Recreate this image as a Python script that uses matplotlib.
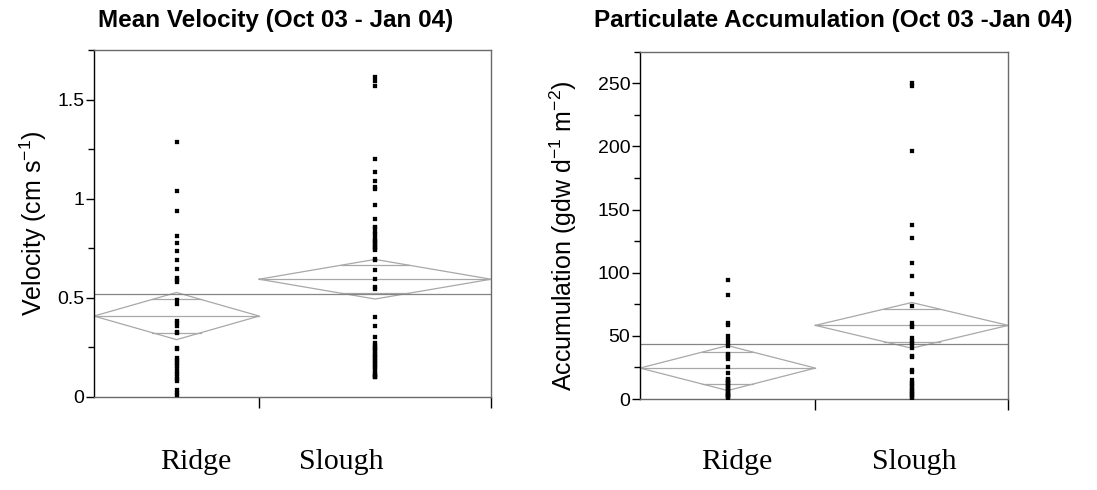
import matplotlib
matplotlib.use('Agg')
import matplotlib.pyplot as plt
import numpy as np
from matplotlib.ticker import MultipleLocator, FuncFormatter

plt.rcParams['font.family'] = ['Liberation Sans', 'DejaVu Sans']
plt.rcParams['mathtext.fontset'] = 'custom'
plt.rcParams['mathtext.rm'] = 'Liberation Sans'
plt.rcParams['mathtext.it'] = 'Liberation Sans:italic'
plt.rcParams['mathtext.bf'] = 'Liberation Sans:bold'

categories = ['Ridge', 'Slough']

# Mean velocity (cm s-1)
vel_ridge = [1.285, 1.04, 0.935, 0.81, 0.775, 0.735, 0.69, 0.645, 0.60, 0.59, 0.58,
             0.49, 0.47, 0.38, 0.37, 0.355, 0.325, 0.32, 0.245, 0.24, 0.195, 0.185,
             0.175, 0.165, 0.155, 0.14, 0.125, 0.115, 0.10, 0.09, 0.08, 0.035, 0.02, 0.01]
vel_slough = [1.613, 1.596, 1.568, 1.199, 1.135, 1.09, 1.057, 1.048, 0.968, 0.897,
              0.855, 0.85, 0.83, 0.82, 0.805, 0.79, 0.788, 0.78, 0.771, 0.76, 0.755,
              0.745, 0.738, 0.693, 0.688, 0.638, 0.596, 0.554, 0.545,
              0.403, 0.356, 0.302, 0.269, 0.26, 0.252, 0.245, 0.235, 0.23, 0.218,
              0.21, 0.20, 0.193, 0.185, 0.177, 0.17, 0.16, 0.15, 0.143, 0.13,
              0.118, 0.11, 0.105, 0.10, 0.098]
vel_means = [0.407, 0.593]
vel_ci = [0.119, 0.100]
vel_grand = 0.517

# Particulate accumulation (gdw d-1 m-2)
acc_ridge = [94, 82, 60, 58.5, 50, 47, 44, 42, 36, 35, 33.5, 32, 25, 20.5, 16, 15,
             14, 13, 12.5, 11, 10, 9.5, 8, 7, 6.5, 5, 4, 3.5, 3, 2, 1.5, 1]
acc_slough = [250, 247.5, 196, 138, 127.5, 108, 97, 83.5, 73.5, 60, 58, 57, 48, 46,
              44.5, 42.5, 40, 34, 33, 23, 21.5, 15, 13, 12, 10, 8.5, 7, 6, 5, 4,
              3, 1.5, 1]
acc_means = [24.5, 58.3]
acc_ci = [17.8, 18.1]
acc_grand = 43.2

fig = plt.figure(figsize=(10.97, 4.90), dpi=100)

DIAMOND = '#a8a8a8'
GRAND = '#858585'
SPINE = '#6a6a6a'


def panel(ax, groups, means, cis, grand, split, top, major, minor):
    edges = [0.0, split, 1.0]
    for i, (vals, m, c) in enumerate(zip(groups, means, cis)):
        x0, x1 = edges[i], edges[i + 1]
        xc = (x0 + x1) / 2
        ax.plot([x0, xc, x1, xc, x0], [m, m + c, m, m - c, m],
                color=DIAMOND, lw=0.9, zorder=2)
        ax.plot([x0, x1], [m, m], color=DIAMOND, lw=0.9, zorder=2)
        d = c / np.sqrt(2)
        hw = (x1 - x0) / 2 * (1 - 1 / np.sqrt(2))
        for s in (1, -1):
            ax.plot([xc - hw, xc + hw], [m + s * d] * 2, color=DIAMOND, lw=0.9, zorder=2)
        ax.plot([xc] * len(vals), vals, 's', ms=2.2, color='black',
                mec='black', mew=0.2, zorder=3)
    ax.axhline(grand, color=GRAND, lw=0.9, zorder=2)
    ax.set_xlim(0, 1)
    ax.set_ylim(0, top)
    ax.set_xticks([split, 1.0])
    ax.set_xticklabels(['', ''])
    ax.tick_params(axis='x', direction='out', length=8, width=1, color='black')
    ax.yaxis.set_major_locator(MultipleLocator(major))
    ax.yaxis.set_minor_locator(MultipleLocator(minor))
    ax.yaxis.set_major_formatter(FuncFormatter(lambda v, p: '%g' % v))
    ax.tick_params(axis='y', which='major', direction='out', length=6, width=1,
                   labelsize=14, pad=1)
    ax.tick_params(axis='y', which='minor', direction='out', length=4, width=1)
    for name in ('top', 'right', 'bottom'):
        ax.spines[name].set_color(SPINE)
        ax.spines[name].set_linewidth(1.0)
    ax.spines['left'].set_color('black')
    ax.spines['left'].set_linewidth(1.0)


ax1 = fig.add_axes([94 / 1097, 1 - 396.7 / 490, 397 / 1097, 346.7 / 490])
panel(ax1, [vel_ridge, vel_slough], vel_means, vel_ci, vel_grand,
      0.416, 1.75, 0.5, 0.25)
ax1.set_ylabel('Velocity (cm s$^{-1}$)', fontsize=18, labelpad=6)

ax2 = fig.add_axes([640 / 1097, 1 - 399 / 490, 368.3 / 1097, 347.3 / 490])
panel(ax2, [acc_ridge, acc_slough], acc_means, acc_ci, acc_grand,
      0.476, 275, 50, 25)
ax2.set_ylabel('Accumulation (gdw d$^{-1}$ m$^{-2}$)', fontsize=18, labelpad=2)
ax2.yaxis.set_label_coords(-0.165, 0.47)

fig.text(276 / 1097, 1 - 21 / 490, 'Mean Velocity (Oct 03 - Jan 04)',
         ha='center', va='center', fontsize=17.5, fontweight='bold')
fig.text(833 / 1097, 1 - 21 / 490, 'Particulate Accumulation (Oct 03 -Jan 04)',
         ha='center', va='center', fontsize=17.5, fontweight='bold')

label_x = [[196, 341], [737, 914]]
for row in label_x:
    for name, px in zip(categories, row):
        fig.text(px / 1097, 1 - 462 / 490, name, ha='center', va='center',
                 fontsize=21.5, family='Liberation Serif')

fig.savefig('out.png', dpi=100)
